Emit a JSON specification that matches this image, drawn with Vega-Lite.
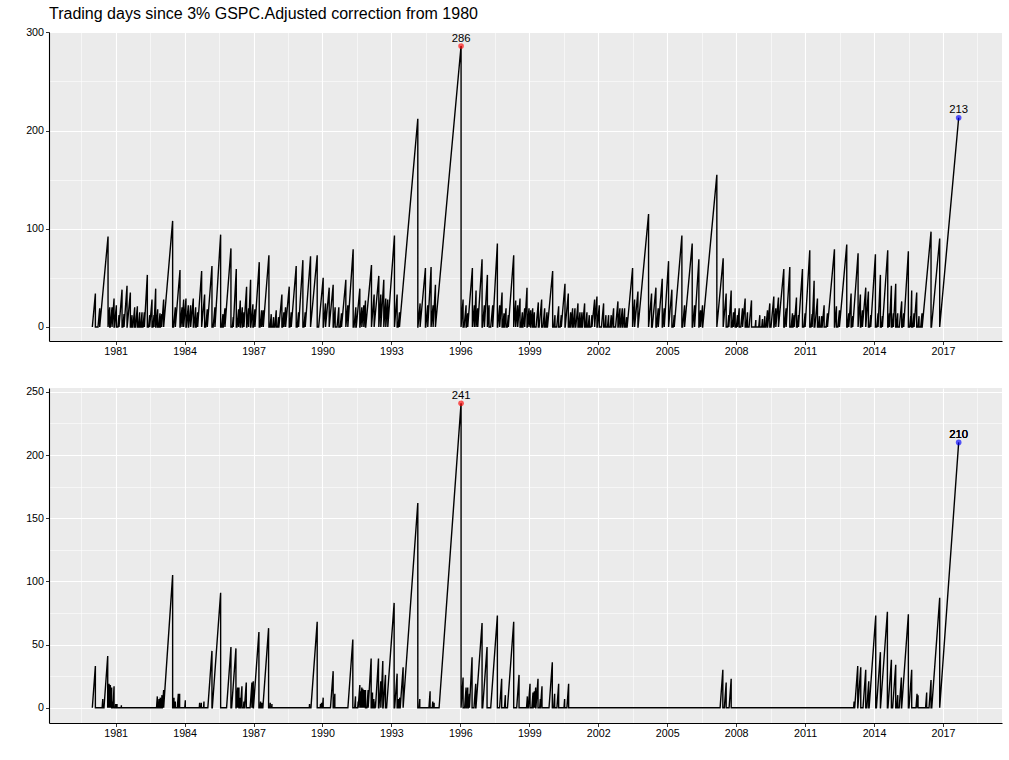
{
  "$schema": "https://vega.github.io/schema/vega-lite/v6.json",
  "padding": {"left": 25, "top": 6, "right": 5, "bottom": 5},
  "spacing": 28,
  "config": {
    "view": {"fill": "#EBEBEB", "stroke": null},
    "font": "Liberation Sans",
    "axis": {
      "labelFont": "Liberation Sans",
      "labelFontSize": 10.7,
      "labelColor": "#000000",
      "tickColor": "#333333",
      "tickSize": 3.5,
      "tickWidth": 1,
      "domainColor": "#000000",
      "domainWidth": 1.1,
      "gridColor": "#FFFFFF",
      "gridWidth": 1.1,
      "labelFlush": false,
      "labelOverlap": false,
      "labelPadding": 2
    }
  },
  "datasets": {
    "top": [
      {"t":1979.985,"v":0},{"t":1980.118,"v":34},{"t":1980.118,"v":0},
      {"t":1980.232,"v":0},{"t":1980.307,"v":19},{"t":1980.307,"v":0},
      {"t":1980.669,"v":92},{"t":1980.669,"v":0},
      {"t":1980.742,"v":20},{"t":1980.742,"v":0},
      {"t":1980.764,"v":0},{"t":1980.843,"v":20},{"t":1980.843,"v":0},
      {"t":1980.930,"v":29},{"t":1980.930,"v":0},
      {"t":1980.944,"v":0},{"t":1981.031,"v":22},{"t":1981.031,"v":0},
      {"t":1981.099,"v":0},{"t":1981.147,"v":12},{"t":1981.147,"v":0},
      {"t":1981.278,"v":38},{"t":1981.278,"v":0},
      {"t":1981.313,"v":0},{"t":1981.365,"v":13},{"t":1981.365,"v":0},
      {"t":1981.495,"v":42},{"t":1981.495,"v":0},
      {"t":1981.501,"v":0},{"t":1981.640,"v":35},{"t":1981.640,"v":0},
      {"t":1981.665,"v":0},{"t":1981.713,"v":12},{"t":1981.713,"v":0},
      {"t":1981.750,"v":0},{"t":1981.829,"v":20},{"t":1981.829,"v":0},
      {"t":1981.862,"v":0},{"t":1981.945,"v":21},{"t":1981.945,"v":0},
      {"t":1981.986,"v":0},{"t":1982.046,"v":15},{"t":1982.046,"v":0},
      {"t":1982.087,"v":0},{"t":1982.147,"v":15},{"t":1982.147,"v":0},
      {"t":1982.189,"v":0},{"t":1982.249,"v":15},{"t":1982.249,"v":0},
      {"t":1982.379,"v":53},{"t":1982.379,"v":0},
      {"t":1982.433,"v":0},{"t":1982.481,"v":12},{"t":1982.481,"v":0},
      {"t":1982.582,"v":28},{"t":1982.582,"v":0},
      {"t":1982.621,"v":0},{"t":1982.669,"v":12},{"t":1982.669,"v":0},
      {"t":1982.742,"v":39},{"t":1982.742,"v":0},
      {"t":1982.758,"v":0},{"t":1982.829,"v":18},{"t":1982.829,"v":0},
      {"t":1982.874,"v":0},{"t":1982.930,"v":14},{"t":1982.930,"v":0},
      {"t":1982.950,"v":0},{"t":1983.002,"v":13},{"t":1983.002,"v":0},
      {"t":1983.089,"v":28},{"t":1983.089,"v":0},
      {"t":1983.480,"v":108},{"t":1983.480,"v":0},
      {"t":1983.518,"v":0},{"t":1983.597,"v":20},{"t":1983.597,"v":0},
      {"t":1983.800,"v":58},{"t":1983.800,"v":0},
      {"t":1983.808,"v":0},{"t":1983.887,"v":20},{"t":1983.887,"v":0},
      {"t":1983.959,"v":28},{"t":1983.959,"v":0},
      {"t":1984.060,"v":29},{"t":1984.060,"v":0},
      {"t":1984.075,"v":0},{"t":1984.162,"v":22},{"t":1984.162,"v":0},
      {"t":1984.176,"v":0},{"t":1984.263,"v":22},{"t":1984.263,"v":0},
      {"t":1984.379,"v":29},{"t":1984.379,"v":0},
      {"t":1984.402,"v":0},{"t":1984.481,"v":20},{"t":1984.481,"v":0},
      {"t":1984.508,"v":0},{"t":1984.568,"v":15},{"t":1984.568,"v":0},
      {"t":1984.742,"v":57},{"t":1984.742,"v":0},
      {"t":1984.872,"v":33},{"t":1984.872,"v":0},
      {"t":1984.917,"v":0},{"t":1984.988,"v":18},{"t":1984.988,"v":0},
      {"t":1985.191,"v":62},{"t":1985.191,"v":0},
      {"t":1985.242,"v":0},{"t":1985.321,"v":20},{"t":1985.321,"v":0},
      {"t":1985.568,"v":94},{"t":1985.568,"v":0},
      {"t":1985.617,"v":0},{"t":1985.669,"v":13},{"t":1985.669,"v":0},
      {"t":1985.681,"v":0},{"t":1985.756,"v":19},{"t":1985.756,"v":0},
      {"t":1986.017,"v":80},{"t":1986.017,"v":0},
      {"t":1986.078,"v":0},{"t":1986.118,"v":10},{"t":1986.118,"v":0},
      {"t":1986.249,"v":59},{"t":1986.249,"v":0},
      {"t":1986.279,"v":0},{"t":1986.350,"v":18},{"t":1986.350,"v":0},
      {"t":1986.423,"v":27},{"t":1986.423,"v":0},
      {"t":1986.431,"v":0},{"t":1986.510,"v":20},{"t":1986.510,"v":0},
      {"t":1986.522,"v":0},{"t":1986.582,"v":15},{"t":1986.582,"v":0},
      {"t":1986.698,"v":41},{"t":1986.698,"v":0},
      {"t":1986.710,"v":0},{"t":1986.785,"v":19},{"t":1986.785,"v":0},
      {"t":1986.872,"v":48},{"t":1986.872,"v":0},
      {"t":1986.882,"v":0},{"t":1986.973,"v":23},{"t":1986.973,"v":0},
      {"t":1986.989,"v":0},{"t":1987.060,"v":18},{"t":1987.060,"v":0},
      {"t":1987.249,"v":66},{"t":1987.249,"v":0},
      {"t":1987.283,"v":0},{"t":1987.350,"v":17},{"t":1987.350,"v":0},
      {"t":1987.423,"v":17},{"t":1987.423,"v":0},
      {"t":1987.669,"v":73},{"t":1987.669,"v":0},
      {"t":1987.719,"v":0},{"t":1987.771,"v":13},{"t":1987.771,"v":0},
      {"t":1987.832,"v":0},{"t":1987.872,"v":10},{"t":1987.872,"v":0},
      {"t":1987.921,"v":0},{"t":1987.988,"v":17},{"t":1987.988,"v":0},
      {"t":1988.049,"v":0},{"t":1988.089,"v":10},{"t":1988.089,"v":0},
      {"t":1988.103,"v":0},{"t":1988.234,"v":33},{"t":1988.234,"v":0},
      {"t":1988.261,"v":0},{"t":1988.321,"v":15},{"t":1988.321,"v":0},
      {"t":1988.394,"v":20},{"t":1988.394,"v":0},
      {"t":1988.553,"v":41},{"t":1988.553,"v":0},
      {"t":1988.580,"v":0},{"t":1988.640,"v":15},{"t":1988.640,"v":0},
      {"t":1988.857,"v":62},{"t":1988.857,"v":0},
      {"t":1988.899,"v":0},{"t":1988.959,"v":15},{"t":1988.959,"v":0},
      {"t":1989.147,"v":68},{"t":1989.147,"v":0},
      {"t":1989.189,"v":0},{"t":1989.249,"v":15},{"t":1989.249,"v":0},
      {"t":1989.481,"v":72},{"t":1989.481,"v":0},
      {"t":1989.770,"v":73},{"t":1989.770,"v":0},
      {"t":1989.833,"v":0},{"t":1990.031,"v":50},{"t":1990.031,"v":0},
      {"t":1990.037,"v":0},{"t":1990.132,"v":24},{"t":1990.132,"v":0},
      {"t":1990.292,"v":40},{"t":1990.292,"v":0},
      {"t":1990.465,"v":43},{"t":1990.465,"v":0},
      {"t":1990.473,"v":0},{"t":1990.552,"v":20},{"t":1990.552,"v":0},
      {"t":1990.633,"v":0},{"t":1990.712,"v":20},{"t":1990.712,"v":0},
      {"t":1990.772,"v":0},{"t":1990.828,"v":14},{"t":1990.828,"v":0},
      {"t":1991.016,"v":48},{"t":1991.016,"v":0},
      {"t":1991.103,"v":22},{"t":1991.103,"v":0},
      {"t":1991.335,"v":79},{"t":1991.335,"v":0},
      {"t":1991.372,"v":0},{"t":1991.451,"v":20},{"t":1991.451,"v":0},
      {"t":1991.470,"v":0},{"t":1991.625,"v":39},{"t":1991.625,"v":0},
      {"t":1991.633,"v":0},{"t":1991.712,"v":20},{"t":1991.712,"v":0},
      {"t":1991.799,"v":22},{"t":1991.799,"v":0},
      {"t":1991.871,"v":27},{"t":1991.871,"v":0},
      {"t":1991.882,"v":0},{"t":1992.132,"v":63},{"t":1992.132,"v":0},
      {"t":1992.248,"v":33},{"t":1992.248,"v":0},
      {"t":1992.451,"v":52},{"t":1992.451,"v":0},
      {"t":1992.538,"v":33},{"t":1992.538,"v":0},
      {"t":1992.668,"v":48},{"t":1992.668,"v":0},
      {"t":1992.755,"v":29},{"t":1992.755,"v":0},
      {"t":1992.842,"v":28},{"t":1992.842,"v":0},
      {"t":1993.132,"v":93},{"t":1993.132,"v":0},
      {"t":1993.248,"v":33},{"t":1993.248,"v":0},
      {"t":1993.290,"v":0},{"t":1993.350,"v":15},{"t":1993.350,"v":0},
      {"t":1994.148,"v":212},{"t":1994.148,"v":0},
      {"t":1994.153,"v":0},{"t":1994.248,"v":24},{"t":1994.248,"v":0},
      {"t":1994.480,"v":60},{"t":1994.480,"v":0},
      {"t":1994.494,"v":0},{"t":1994.581,"v":22},{"t":1994.581,"v":0},
      {"t":1994.726,"v":61},{"t":1994.726,"v":0},
      {"t":1994.813,"v":22},{"t":1994.813,"v":0},
      {"t":1994.915,"v":43},{"t":1994.915,"v":0},
      {"t":1996.030,"v":286},{"t":1996.030,"v":0},
      {"t":1996.118,"v":28},{"t":1996.118,"v":0},
      {"t":1996.161,"v":0},{"t":1996.248,"v":22},{"t":1996.248,"v":0},
      {"t":1996.264,"v":0},{"t":1996.320,"v":14},{"t":1996.320,"v":0},
      {"t":1996.523,"v":60},{"t":1996.523,"v":0},
      {"t":1996.610,"v":22},{"t":1996.610,"v":0},
      {"t":1996.683,"v":37},{"t":1996.683,"v":0},
      {"t":1996.755,"v":19},{"t":1996.755,"v":0},
      {"t":1996.944,"v":69},{"t":1996.944,"v":0},
      {"t":1996.958,"v":0},{"t":1997.045,"v":22},{"t":1997.045,"v":0},
      {"t":1997.176,"v":53},{"t":1997.176,"v":0},
      {"t":1997.248,"v":22},{"t":1997.248,"v":0},
      {"t":1997.320,"v":0},{"t":1997.407,"v":22},{"t":1997.407,"v":0},
      {"t":1997.610,"v":85},{"t":1997.610,"v":0},
      {"t":1997.624,"v":0},{"t":1997.711,"v":22},{"t":1997.711,"v":0},
      {"t":1997.814,"v":35},{"t":1997.814,"v":0},
      {"t":1997.844,"v":0},{"t":1997.900,"v":14},{"t":1997.900,"v":0},
      {"t":1997.912,"v":0},{"t":1997.987,"v":19},{"t":1997.987,"v":0},
      {"t":1998.040,"v":0},{"t":1998.088,"v":12},{"t":1998.088,"v":0},
      {"t":1998.321,"v":73},{"t":1998.321,"v":0},
      {"t":1998.408,"v":27},{"t":1998.408,"v":0},
      {"t":1998.495,"v":22},{"t":1998.495,"v":0},
      {"t":1998.596,"v":29},{"t":1998.596,"v":0},
      {"t":1998.638,"v":0},{"t":1998.698,"v":15},{"t":1998.698,"v":0},
      {"t":1998.724,"v":0},{"t":1998.799,"v":19},{"t":1998.799,"v":0},
      {"t":1998.900,"v":40},{"t":1998.900,"v":0},
      {"t":1998.912,"v":0},{"t":1998.987,"v":19},{"t":1998.987,"v":0},
      {"t":1999.060,"v":17},{"t":1999.060,"v":0},
      {"t":1999.072,"v":0},{"t":1999.147,"v":19},{"t":1999.147,"v":0},
      {"t":1999.160,"v":0},{"t":1999.220,"v":15},{"t":1999.220,"v":0},
      {"t":1999.293,"v":0},{"t":1999.392,"v":25},{"t":1999.392,"v":0},
      {"t":1999.426,"v":0},{"t":1999.537,"v":28},{"t":1999.537,"v":0},
      {"t":1999.593,"v":0},{"t":1999.668,"v":19},{"t":1999.668,"v":0},
      {"t":1999.709,"v":0},{"t":1999.769,"v":15},{"t":1999.769,"v":0},
      {"t":1999.790,"v":0},{"t":2000.016,"v":57},{"t":2000.016,"v":0},
      {"t":2000.069,"v":0},{"t":2000.117,"v":12},{"t":2000.117,"v":0},
      {"t":2000.194,"v":0},{"t":2000.277,"v":21},{"t":2000.277,"v":0},
      {"t":2000.344,"v":0},{"t":2000.392,"v":12},{"t":2000.392,"v":0},
      {"t":2000.552,"v":44},{"t":2000.552,"v":0},
      {"t":2000.562,"v":0},{"t":2000.697,"v":34},{"t":2000.697,"v":0},
      {"t":2000.738,"v":0},{"t":2000.798,"v":15},{"t":2000.798,"v":0},
      {"t":2000.810,"v":0},{"t":2000.885,"v":19},{"t":2000.885,"v":0},
      {"t":2000.912,"v":0},{"t":2000.987,"v":19},{"t":2000.987,"v":0},
      {"t":2001.022,"v":0},{"t":2001.117,"v":24},{"t":2001.117,"v":0},
      {"t":2001.144,"v":0},{"t":2001.204,"v":15},{"t":2001.204,"v":0},
      {"t":2001.231,"v":0},{"t":2001.291,"v":15},{"t":2001.291,"v":0},
      {"t":2001.312,"v":0},{"t":2001.407,"v":24},{"t":2001.407,"v":0},
      {"t":2001.448,"v":0},{"t":2001.508,"v":15},{"t":2001.508,"v":0},
      {"t":2001.562,"v":0},{"t":2001.610,"v":12},{"t":2001.610,"v":0},
      {"t":2001.678,"v":0},{"t":2001.726,"v":12},{"t":2001.726,"v":0},
      {"t":2001.842,"v":28},{"t":2001.842,"v":0},
      {"t":2001.943,"v":31},{"t":2001.943,"v":0},
      {"t":2001.958,"v":0},{"t":2002.045,"v":22},{"t":2002.045,"v":0},
      {"t":2002.138,"v":0},{"t":2002.233,"v":24},{"t":2002.233,"v":0},
      {"t":2002.286,"v":0},{"t":2002.334,"v":12},{"t":2002.334,"v":0},
      {"t":2002.402,"v":0},{"t":2002.450,"v":12},{"t":2002.450,"v":0},
      {"t":2002.518,"v":0},{"t":2002.566,"v":12},{"t":2002.566,"v":0},
      {"t":2002.593,"v":0},{"t":2002.668,"v":19},{"t":2002.668,"v":0},
      {"t":2002.753,"v":0},{"t":2002.856,"v":26},{"t":2002.856,"v":0},
      {"t":2002.868,"v":0},{"t":2002.943,"v":19},{"t":2002.943,"v":0},
      {"t":2002.970,"v":0},{"t":2003.045,"v":19},{"t":2003.045,"v":0},
      {"t":2003.071,"v":0},{"t":2003.146,"v":19},{"t":2003.146,"v":0},
      {"t":2003.193,"v":0},{"t":2003.233,"v":10},{"t":2003.233,"v":0},
      {"t":2003.256,"v":0},{"t":2003.494,"v":60},{"t":2003.494,"v":0},
      {"t":2003.581,"v":28},{"t":2003.581,"v":0},
      {"t":2003.726,"v":36},{"t":2003.726,"v":0},
      {"t":2003.733,"v":0},{"t":2004.189,"v":115},{"t":2004.189,"v":0},
      {"t":2004.320,"v":34},{"t":2004.320,"v":0},
      {"t":2004.350,"v":0},{"t":2004.509,"v":40},{"t":2004.509,"v":0},
      {"t":2004.535,"v":0},{"t":2004.610,"v":19},{"t":2004.610,"v":0},
      {"t":2004.784,"v":49},{"t":2004.784,"v":0},
      {"t":2004.796,"v":0},{"t":2004.871,"v":19},{"t":2004.871,"v":0},
      {"t":2005.059,"v":67},{"t":2005.059,"v":0},
      {"t":2005.204,"v":38},{"t":2005.204,"v":0},
      {"t":2005.258,"v":0},{"t":2005.306,"v":12},{"t":2005.306,"v":0},
      {"t":2005.639,"v":93},{"t":2005.639,"v":0},
      {"t":2005.668,"v":0},{"t":2005.755,"v":22},{"t":2005.755,"v":0},
      {"t":2006.088,"v":85},{"t":2006.088,"v":0},
      {"t":2006.103,"v":0},{"t":2006.190,"v":22},{"t":2006.190,"v":0},
      {"t":2006.378,"v":69},{"t":2006.378,"v":0},
      {"t":2006.384,"v":0},{"t":2006.451,"v":17},{"t":2006.451,"v":0},
      {"t":2006.537,"v":22},{"t":2006.537,"v":0},
      {"t":2006.545,"v":0},{"t":2007.160,"v":155},{"t":2007.160,"v":0},
      {"t":2007.436,"v":70},{"t":2007.436,"v":0},
      {"t":2007.566,"v":34},{"t":2007.566,"v":0},
      {"t":2007.634,"v":0},{"t":2007.682,"v":12},{"t":2007.682,"v":0},
      {"t":2007.784,"v":37},{"t":2007.784,"v":0},
      {"t":2007.825,"v":0},{"t":2007.885,"v":15},{"t":2007.885,"v":0},
      {"t":2007.958,"v":19},{"t":2007.958,"v":0},
      {"t":2008.011,"v":0},{"t":2008.059,"v":12},{"t":2008.059,"v":0},
      {"t":2008.132,"v":19},{"t":2008.132,"v":0},
      {"t":2008.202,"v":0},{"t":2008.277,"v":19},{"t":2008.277,"v":0},
      {"t":2008.392,"v":29},{"t":2008.392,"v":0},
      {"t":2008.434,"v":0},{"t":2008.494,"v":15},{"t":2008.494,"v":0},
      {"t":2008.561,"v":0},{"t":2008.668,"v":27},{"t":2008.668,"v":0},
      {"t":2008.828,"v":0},{"t":2008.856,"v":7},{"t":2008.856,"v":0},
      {"t":2008.982,"v":0},{"t":2009.030,"v":12},{"t":2009.030,"v":0},
      {"t":2009.114,"v":0},{"t":2009.146,"v":8},{"t":2009.146,"v":0},
      {"t":2009.204,"v":0},{"t":2009.248,"v":11},{"t":2009.248,"v":0},
      {"t":2009.297,"v":0},{"t":2009.364,"v":17},{"t":2009.364,"v":0},
      {"t":2009.370,"v":0},{"t":2009.465,"v":24},{"t":2009.465,"v":0},
      {"t":2009.516,"v":0},{"t":2009.639,"v":31},{"t":2009.639,"v":0},
      {"t":2009.651,"v":0},{"t":2009.726,"v":19},{"t":2009.726,"v":0},
      {"t":2009.842,"v":30},{"t":2009.842,"v":0},
      {"t":2010.074,"v":59},{"t":2010.074,"v":0},
      {"t":2010.100,"v":0},{"t":2010.175,"v":19},{"t":2010.175,"v":0},
      {"t":2010.335,"v":61},{"t":2010.335,"v":0},
      {"t":2010.395,"v":0},{"t":2010.451,"v":14},{"t":2010.451,"v":0},
      {"t":2010.475,"v":0},{"t":2010.523,"v":12},{"t":2010.523,"v":0},
      {"t":2010.625,"v":30},{"t":2010.625,"v":0},
      {"t":2010.664,"v":0},{"t":2010.712,"v":12},{"t":2010.712,"v":0},
      {"t":2010.886,"v":59},{"t":2010.886,"v":0},
      {"t":2010.945,"v":0},{"t":2011.001,"v":14},{"t":2011.001,"v":0},
      {"t":2011.204,"v":78},{"t":2011.204,"v":0},
      {"t":2011.254,"v":0},{"t":2011.306,"v":13},{"t":2011.306,"v":0},
      {"t":2011.393,"v":47},{"t":2011.393,"v":0},
      {"t":2011.423,"v":0},{"t":2011.538,"v":29},{"t":2011.538,"v":0},
      {"t":2011.581,"v":0},{"t":2011.625,"v":11},{"t":2011.625,"v":0},
      {"t":2011.682,"v":0},{"t":2011.726,"v":11},{"t":2011.726,"v":0},
      {"t":2011.741,"v":0},{"t":2011.828,"v":22},{"t":2011.828,"v":0},
      {"t":2011.917,"v":0},{"t":2011.973,"v":14},{"t":2011.973,"v":0},
      {"t":2012.277,"v":79},{"t":2012.277,"v":0},
      {"t":2012.281,"v":0},{"t":2012.364,"v":21},{"t":2012.364,"v":0},
      {"t":2012.427,"v":0},{"t":2012.494,"v":17},{"t":2012.494,"v":0},
      {"t":2012.813,"v":84},{"t":2012.813,"v":0},
      {"t":2012.844,"v":0},{"t":2012.900,"v":14},{"t":2012.900,"v":0},
      {"t":2013.002,"v":34},{"t":2013.002,"v":0},
      {"t":2013.030,"v":0},{"t":2013.074,"v":11},{"t":2013.074,"v":0},
      {"t":2013.306,"v":75},{"t":2013.306,"v":0},
      {"t":2013.407,"v":33},{"t":2013.407,"v":0},
      {"t":2013.427,"v":0},{"t":2013.494,"v":17},{"t":2013.494,"v":0},
      {"t":2013.639,"v":40},{"t":2013.639,"v":0},
      {"t":2013.755,"v":36},{"t":2013.755,"v":0},
      {"t":2013.809,"v":0},{"t":2013.857,"v":12},{"t":2013.857,"v":0},
      {"t":2014.060,"v":74},{"t":2014.060,"v":0},
      {"t":2014.119,"v":0},{"t":2014.175,"v":14},{"t":2014.175,"v":0},
      {"t":2014.277,"v":53},{"t":2014.277,"v":0},
      {"t":2014.320,"v":0},{"t":2014.364,"v":11},{"t":2014.364,"v":0},
      {"t":2014.596,"v":78},{"t":2014.596,"v":0},
      {"t":2014.612,"v":0},{"t":2014.668,"v":14},{"t":2014.668,"v":0},
      {"t":2014.755,"v":42},{"t":2014.755,"v":0},
      {"t":2014.786,"v":0},{"t":2014.842,"v":14},{"t":2014.842,"v":0},
      {"t":2014.944,"v":44},{"t":2014.944,"v":0},
      {"t":2014.974,"v":0},{"t":2015.030,"v":14},{"t":2015.030,"v":0},
      {"t":2015.101,"v":0},{"t":2015.204,"v":26},{"t":2015.204,"v":0},
      {"t":2015.235,"v":0},{"t":2015.291,"v":14},{"t":2015.291,"v":0},
      {"t":2015.494,"v":77},{"t":2015.494,"v":0},
      {"t":2015.552,"v":0},{"t":2015.596,"v":11},{"t":2015.596,"v":0},
      {"t":2015.639,"v":37},{"t":2015.639,"v":0},
      {"t":2015.685,"v":0},{"t":2015.741,"v":14},{"t":2015.741,"v":0},
      {"t":2015.857,"v":35},{"t":2015.857,"v":0},
      {"t":2015.914,"v":0},{"t":2015.958,"v":11},{"t":2015.958,"v":0},
      {"t":2016.032,"v":0},{"t":2016.088,"v":14},{"t":2016.088,"v":0},
      {"t":2016.095,"v":0},{"t":2016.480,"v":97},{"t":2016.480,"v":0},
      {"t":2016.500,"v":0},{"t":2016.857,"v":90},{"t":2016.857,"v":0},
      {"t":2017.683,"v":213}
    ],
    "bottom": [
      {"t":1979.985,"v":0},{"t":1980.118,"v":33},{"t":1980.118,"v":0},
      {"t":1980.412,"v":0},{"t":1980.440,"v":7},{"t":1980.440,"v":0},
      {"t":1980.492,"v":0},{"t":1980.655,"v":41},{"t":1980.655,"v":0},
      {"t":1980.713,"v":19},{"t":1980.713,"v":0},
      {"t":1980.770,"v":18},{"t":1980.770,"v":0},
      {"t":1980.828,"v":16},{"t":1980.828,"v":0},
      {"t":1980.866,"v":0},{"t":1980.886,"v":5},{"t":1980.886,"v":0},
      {"t":1980.930,"v":17},{"t":1980.930,"v":0},
      {"t":1980.990,"v":0},{"t":1981.002,"v":3},{"t":1981.002,"v":0},
      {"t":1981.048,"v":0},{"t":1981.060,"v":3},{"t":1981.060,"v":0},
      {"t":1981.241,"v":0},{"t":1981.249,"v":2},{"t":1981.249,"v":0},
      {"t":1982.778,"v":0},{"t":1982.814,"v":9},{"t":1982.814,"v":0},
      {"t":1982.858,"v":0},{"t":1982.886,"v":7},{"t":1982.886,"v":0},
      {"t":1982.912,"v":0},{"t":1982.944,"v":8},{"t":1982.944,"v":0},
      {"t":1982.977,"v":0},{"t":1983.017,"v":10},{"t":1983.017,"v":0},
      {"t":1983.033,"v":0},{"t":1983.089,"v":14},{"t":1983.089,"v":0},
      {"t":1983.480,"v":105},{"t":1983.480,"v":0},
      {"t":1983.506,"v":0},{"t":1983.538,"v":8},{"t":1983.538,"v":0},
      {"t":1983.577,"v":0},{"t":1983.597,"v":5},{"t":1983.597,"v":0},
      {"t":1983.683,"v":0},{"t":1983.727,"v":11},{"t":1983.727,"v":0},
      {"t":1983.741,"v":0},{"t":1983.785,"v":11},{"t":1983.785,"v":0},
      {"t":1984.007,"v":0},{"t":1984.031,"v":6},{"t":1984.031,"v":0},
      {"t":1984.639,"v":0},{"t":1984.655,"v":4},{"t":1984.655,"v":0},
      {"t":1984.711,"v":0},{"t":1984.727,"v":4},{"t":1984.727,"v":0},
      {"t":1984.823,"v":0},{"t":1984.843,"v":5},{"t":1984.843,"v":0},
      {"t":1985.012,"v":0},{"t":1985.191,"v":45},{"t":1985.191,"v":0},
      {"t":1985.207,"v":0},{"t":1985.568,"v":91},{"t":1985.568,"v":0},
      {"t":1985.827,"v":0},{"t":1986.017,"v":48},{"t":1986.017,"v":0},
      {"t":1986.047,"v":0},{"t":1986.234,"v":47},{"t":1986.234,"v":0},
      {"t":1986.243,"v":0},{"t":1986.307,"v":16},{"t":1986.307,"v":0},
      {"t":1986.365,"v":16},{"t":1986.365,"v":0},
      {"t":1986.391,"v":0},{"t":1986.423,"v":8},{"t":1986.423,"v":0},
      {"t":1986.428,"v":0},{"t":1986.495,"v":17},{"t":1986.495,"v":0},
      {"t":1986.562,"v":0},{"t":1986.582,"v":5},{"t":1986.582,"v":0},
      {"t":1986.605,"v":0},{"t":1986.684,"v":20},{"t":1986.684,"v":0},
      {"t":1986.851,"v":0},{"t":1986.930,"v":20},{"t":1986.930,"v":0},
      {"t":1986.988,"v":21},{"t":1986.988,"v":0},
      {"t":1986.996,"v":0},{"t":1987.234,"v":60},{"t":1987.234,"v":0},
      {"t":1987.286,"v":0},{"t":1987.306,"v":5},{"t":1987.306,"v":0},
      {"t":1987.349,"v":0},{"t":1987.365,"v":4},{"t":1987.365,"v":0},
      {"t":1987.405,"v":0},{"t":1987.655,"v":63},{"t":1987.655,"v":0},
      {"t":1987.711,"v":0},{"t":1987.727,"v":4},{"t":1987.727,"v":0},
      {"t":1987.788,"v":0},{"t":1987.800,"v":3},{"t":1987.800,"v":0},
      {"t":1989.425,"v":0},{"t":1989.437,"v":3},{"t":1989.437,"v":0},
      {"t":1989.498,"v":0},{"t":1989.770,"v":68},{"t":1989.770,"v":0},
      {"t":1989.903,"v":0},{"t":1989.915,"v":3},{"t":1989.915,"v":0},
      {"t":1989.942,"v":0},{"t":1989.958,"v":4},{"t":1989.958,"v":0},
      {"t":1989.999,"v":0},{"t":1990.031,"v":8},{"t":1990.031,"v":0},
      {"t":1990.348,"v":0},{"t":1990.465,"v":29},{"t":1990.465,"v":0},
      {"t":1990.494,"v":0},{"t":1990.538,"v":11},{"t":1990.538,"v":0},
      {"t":1991.106,"v":0},{"t":1991.320,"v":54},{"t":1991.320,"v":0},
      {"t":1991.401,"v":0},{"t":1991.437,"v":9},{"t":1991.437,"v":0},
      {"t":1991.532,"v":0},{"t":1991.553,"v":5},{"t":1991.553,"v":0},
      {"t":1991.625,"v":18},{"t":1991.625,"v":0},
      {"t":1991.668,"v":13},{"t":1991.668,"v":0},
      {"t":1991.712,"v":16},{"t":1991.712,"v":0},
      {"t":1991.755,"v":15},{"t":1991.755,"v":0},
      {"t":1991.813,"v":14},{"t":1991.813,"v":0},
      {"t":1991.871,"v":14},{"t":1991.871,"v":0},
      {"t":1991.931,"v":0},{"t":1991.987,"v":14},{"t":1991.987,"v":0},
      {"t":1992.118,"v":39},{"t":1992.118,"v":0},
      {"t":1992.128,"v":0},{"t":1992.176,"v":12},{"t":1992.176,"v":0},
      {"t":1992.206,"v":0},{"t":1992.234,"v":7},{"t":1992.234,"v":0},
      {"t":1992.286,"v":0},{"t":1992.306,"v":5},{"t":1992.306,"v":0},
      {"t":1992.437,"v":39},{"t":1992.437,"v":0},
      {"t":1992.455,"v":0},{"t":1992.538,"v":21},{"t":1992.538,"v":0},
      {"t":1992.625,"v":37},{"t":1992.625,"v":0},
      {"t":1992.638,"v":0},{"t":1992.741,"v":26},{"t":1992.741,"v":0},
      {"t":1992.790,"v":0},{"t":1993.118,"v":83},{"t":1993.118,"v":0},
      {"t":1993.141,"v":0},{"t":1993.248,"v":27},{"t":1993.248,"v":0},
      {"t":1993.278,"v":0},{"t":1993.306,"v":7},{"t":1993.306,"v":0},
      {"t":1993.332,"v":0},{"t":1993.364,"v":8},{"t":1993.364,"v":0},
      {"t":1993.382,"v":0},{"t":1993.509,"v":32},{"t":1993.509,"v":0},
      {"t":1994.148,"v":162},{"t":1994.148,"v":0},
      {"t":1994.208,"v":0},{"t":1994.234,"v":7},{"t":1994.234,"v":0},
      {"t":1994.633,"v":0},{"t":1994.683,"v":13},{"t":1994.683,"v":0},
      {"t":1994.779,"v":0},{"t":1994.799,"v":5},{"t":1994.799,"v":0},
      {"t":1994.841,"v":0},{"t":1994.857,"v":4},{"t":1994.857,"v":0},
      {"t":1995.074,"v":0},{"t":1996.030,"v":241},{"t":1996.030,"v":0},
      {"t":1996.118,"v":24},{"t":1996.118,"v":0},
      {"t":1996.185,"v":0},{"t":1996.248,"v":16},{"t":1996.248,"v":0},
      {"t":1996.257,"v":0},{"t":1996.321,"v":16},{"t":1996.321,"v":0},
      {"t":1996.349,"v":0},{"t":1996.393,"v":11},{"t":1996.393,"v":0},
      {"t":1996.509,"v":40},{"t":1996.509,"v":0},
      {"t":1996.593,"v":0},{"t":1996.668,"v":19},{"t":1996.668,"v":0},
      {"t":1996.678,"v":0},{"t":1996.944,"v":67},{"t":1996.944,"v":0},
      {"t":1996.971,"v":0},{"t":1997.161,"v":48},{"t":1997.161,"v":0},
      {"t":1997.320,"v":0},{"t":1997.610,"v":73},{"t":1997.610,"v":0},
      {"t":1997.707,"v":0},{"t":1997.798,"v":23},{"t":1997.798,"v":0},
      {"t":1997.918,"v":0},{"t":1997.958,"v":10},{"t":1997.958,"v":0},
      {"t":1998.049,"v":0},{"t":1998.321,"v":68},{"t":1998.321,"v":0},
      {"t":1998.451,"v":0},{"t":1998.553,"v":26},{"t":1998.553,"v":0},
      {"t":1998.879,"v":0},{"t":1998.915,"v":9},{"t":1998.915,"v":0},
      {"t":1998.956,"v":0},{"t":1999.031,"v":19},{"t":1999.031,"v":0},
      {"t":1999.113,"v":0},{"t":1999.161,"v":12},{"t":1999.161,"v":0},
      {"t":1999.167,"v":0},{"t":1999.219,"v":13},{"t":1999.219,"v":0},
      {"t":1999.277,"v":16},{"t":1999.277,"v":0},
      {"t":1999.287,"v":0},{"t":1999.378,"v":23},{"t":1999.378,"v":0},
      {"t":1999.452,"v":0},{"t":1999.480,"v":7},{"t":1999.480,"v":0},
      {"t":1999.485,"v":0},{"t":1999.552,"v":17},{"t":1999.552,"v":0},
      {"t":1999.858,"v":0},{"t":2000.001,"v":36},{"t":2000.001,"v":0},
      {"t":2000.059,"v":0},{"t":2000.103,"v":11},{"t":2000.103,"v":0},
      {"t":2000.202,"v":0},{"t":2000.277,"v":19},{"t":2000.277,"v":0},
      {"t":2000.509,"v":0},{"t":2000.537,"v":7},{"t":2000.537,"v":0},
      {"t":2000.636,"v":0},{"t":2000.711,"v":19},{"t":2000.711,"v":0},
      {"t":2007.302,"v":0},{"t":2007.421,"v":30},{"t":2007.421,"v":0},
      {"t":2007.487,"v":0},{"t":2007.566,"v":20},{"t":2007.566,"v":0},
      {"t":2007.693,"v":0},{"t":2007.784,"v":23},{"t":2007.784,"v":0},
      {"t":2013.113,"v":0},{"t":2013.133,"v":5},{"t":2013.133,"v":0},
      {"t":2013.158,"v":0},{"t":2013.291,"v":33},{"t":2013.291,"v":0},
      {"t":2013.295,"v":0},{"t":2013.422,"v":32},{"t":2013.422,"v":0},
      {"t":2013.520,"v":0},{"t":2013.639,"v":30},{"t":2013.639,"v":0},
      {"t":2013.687,"v":0},{"t":2013.770,"v":21},{"t":2013.770,"v":0},
      {"t":2013.786,"v":0},{"t":2014.074,"v":73},{"t":2014.074,"v":0},
      {"t":2014.104,"v":0},{"t":2014.277,"v":44},{"t":2014.277,"v":0},
      {"t":2014.281,"v":0},{"t":2014.581,"v":76},{"t":2014.581,"v":0},
      {"t":2014.606,"v":0},{"t":2014.755,"v":38},{"t":2014.755,"v":0},
      {"t":2014.809,"v":0},{"t":2014.944,"v":34},{"t":2014.944,"v":0},
      {"t":2014.991,"v":0},{"t":2015.031,"v":10},{"t":2015.031,"v":0},
      {"t":2015.095,"v":0},{"t":2015.190,"v":24},{"t":2015.190,"v":0},
      {"t":2015.202,"v":0},{"t":2015.494,"v":74},{"t":2015.494,"v":0},
      {"t":2015.522,"v":0},{"t":2015.639,"v":30},{"t":2015.639,"v":0},
      {"t":2015.827,"v":0},{"t":2015.871,"v":11},{"t":2015.871,"v":0},
      {"t":2015.915,"v":10},{"t":2015.915,"v":0},
      {"t":2016.243,"v":0},{"t":2016.291,"v":12},{"t":2016.291,"v":0},
      {"t":2016.393,"v":0},{"t":2016.480,"v":22},{"t":2016.480,"v":0},
      {"t":2016.512,"v":0},{"t":2016.857,"v":87},{"t":2016.857,"v":0},
      {"t":2017.683,"v":210}
    ],
    "topMarks": [
      {"t":1996.030,"v":286,"k":"max","d":0},
      {"t":2017.683,"v":213,"k":"last","d":0}
    ],
    "bottomMarks": [
      {"t":1996.030,"v":241,"k":"max","d":0},
      {"t":2017.683,"v":210,"k":"last","d":0},
      {"t":2017.683,"v":210,"k":"last","d":1},
      {"t":2017.683,"v":210,"k":"last","d":1}
    ]
  },
  "vconcat": [
    {
      "width": 953,
      "height": 309,
      "title": {
        "text": "Trading days since 3% GSPC.Adjusted correction from 1980",
        "anchor": "start",
        "frame": "group",
        "font": "Liberation Sans",
        "fontSize": 16,
        "fontWeight": "normal",
        "color": "#000000",
        "offset": 4
      },
      "layer": [
        {
          "data": {"name": "top"},
          "mark": {"type": "point", "opacity": 0},
          "encoding": {
            "x": {"field": "t", "type": "quantitative", "title": null,
              "scale": {"domain": [1978.1, 2019.568], "nice": false, "zero": false},
              "axis": {"orient": "top", "values": [1979.5,1982.5,1985.5,1988.5,1991.5,1994.5,1997.5,2000.5,2003.5,2006.5,2009.5,2012.5,2015.5,2018.5],
                "grid": true, "gridWidth": 0.55, "labels": false, "ticks": false, "domain": false}},
            "y": {"field": "v", "type": "quantitative", "title": null,
              "scale": {"domain": [-14.3, 300.3], "nice": false, "zero": false},
              "axis": {"orient": "right", "values": [50, 150, 250],
                "grid": true, "gridWidth": 0.55, "labels": false, "ticks": false, "domain": false}}
          }
        },
        {
          "data": {"name": "top"},
          "mark": {"type": "line", "color": "#000000", "strokeWidth": 1.4},
          "encoding": {
            "x": {"field": "t", "type": "quantitative", "title": null,
              "axis": {"orient": "bottom", "values": [1981,1984,1987,1990,1993,1996,1999,2002,2005,2008,2011,2014,2017], "format": "d", "grid": true}},
            "y": {"field": "v", "type": "quantitative", "title": null,
              "axis": {"orient": "left", "values": [0, 100, 200, 300], "format": "d", "grid": true}},
            "order": {"value": null}
          }
        },
        {
          "data": {"name": "topMarks"},
          "mark": {"type": "circle", "size": 32, "opacity": 0.65},
          "encoding": {
            "x": {"field": "t", "type": "quantitative", "axis": null},
            "y": {"field": "v", "type": "quantitative", "axis": null},
            "color": {"field": "k", "type": "nominal", "legend": null,
              "scale": {"domain": ["max", "last"], "range": ["#FF0000", "#0000FF"]}}
          }
        },
        {
          "data": {"name": "topMarks"},
          "mark": {"type": "text", "font": "Liberation Sans", "fontSize": 11.3, "color": "#000000", "baseline": "alphabetic", "dy": -4.5},
          "encoding": {
            "x": {"field": "t", "type": "quantitative", "axis": null},
            "y": {"field": "v", "type": "quantitative", "axis": null},
            "text": {"field": "v", "type": "quantitative", "format": "d"}
          }
        }
      ],
      "resolve": {"axis": {"x": "independent", "y": "independent"}}
    },
    {
      "width": 953,
      "height": 335,
      "layer": [
        {
          "data": {"name": "bottom"},
          "mark": {"type": "point", "opacity": 0},
          "encoding": {
            "x": {"field": "t", "type": "quantitative", "title": null,
              "scale": {"domain": [1978.1, 2019.568], "nice": false, "zero": false},
              "axis": {"orient": "top", "values": [1979.5,1982.5,1985.5,1988.5,1991.5,1994.5,1997.5,2000.5,2003.5,2006.5,2009.5,2012.5,2015.5,2018.5],
                "grid": true, "gridWidth": 0.55, "labels": false, "ticks": false, "domain": false}},
            "y": {"field": "v", "type": "quantitative", "title": null,
              "scale": {"domain": [-12.05, 253.05], "nice": false, "zero": false},
              "axis": {"orient": "right", "values": [25, 75, 125, 175, 225],
                "grid": true, "gridWidth": 0.55, "labels": false, "ticks": false, "domain": false}}
          }
        },
        {
          "data": {"name": "bottom"},
          "mark": {"type": "line", "color": "#000000", "strokeWidth": 1.4},
          "encoding": {
            "x": {"field": "t", "type": "quantitative", "title": null,
              "axis": {"orient": "bottom", "values": [1981,1984,1987,1990,1993,1996,1999,2002,2005,2008,2011,2014,2017], "format": "d", "grid": true}},
            "y": {"field": "v", "type": "quantitative", "title": null,
              "axis": {"orient": "left", "values": [0, 50, 100, 150, 200, 250], "format": "d", "grid": true}},
            "order": {"value": null}
          }
        },
        {
          "data": {"name": "bottomMarks"},
          "transform": [{"filter": "datum.d == 0"}],
          "mark": {"type": "circle", "size": 32, "opacity": 0.65},
          "encoding": {
            "x": {"field": "t", "type": "quantitative", "axis": null},
            "y": {"field": "v", "type": "quantitative", "axis": null},
            "color": {"field": "k", "type": "nominal", "legend": null,
              "scale": {"domain": ["max", "last"], "range": ["#FF0000", "#0000FF"]}}
          }
        },
        {
          "data": {"name": "bottomMarks"},
          "mark": {"type": "text", "font": "Liberation Sans", "fontSize": 11.3, "color": "#000000", "baseline": "alphabetic", "dy": -4.5},
          "encoding": {
            "x": {"field": "t", "type": "quantitative", "axis": null},
            "y": {"field": "v", "type": "quantitative", "axis": null},
            "text": {"field": "v", "type": "quantitative", "format": "d"}
          }
        }
      ],
      "resolve": {"axis": {"x": "independent", "y": "independent"}}
    }
  ]
}
